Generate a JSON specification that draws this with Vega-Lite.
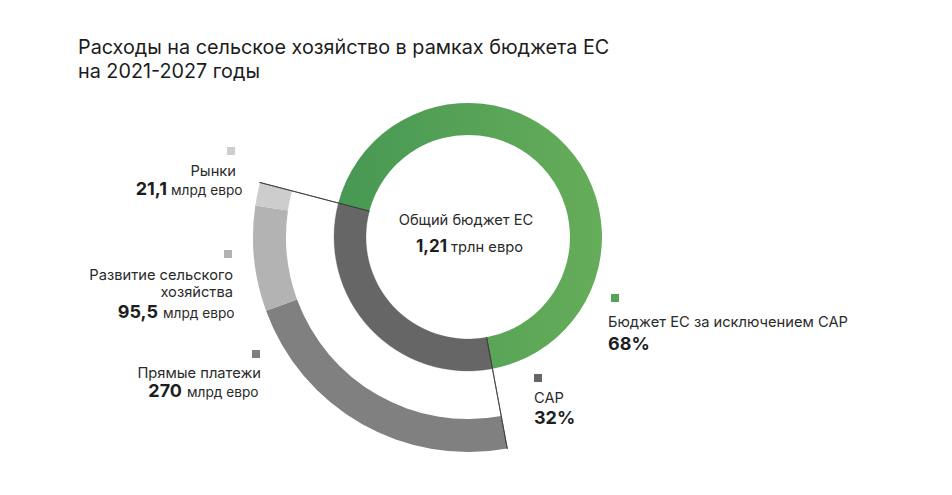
{
  "$schema": "https://vega.github.io/schema/vega-lite/v6.json",
  "width": 952,
  "height": 495,
  "autosize": {"type": "fit", "contains": "padding"},
  "padding": 0,
  "background": "#ffffff",
  "config": {
    "view": {"stroke": null},
    "text": {"font": "Inter", "fontSize": 14.7, "color": "#2b2b2b", "baseline": "alphabetic"}
  },
  "datasets": {
    "budget": [
      {"part": "CAP", "pct": 32, "label": "32%"},
      {"part": "Бюджет ЕС за исключением CAP", "pct": 68, "label": "68%"}
    ],
    "cap": [
      {"name": "Прямые платежи", "value": 270, "label": "270", "unit": "млрд евро"},
      {"name": "Развитие сельского хозяйства", "value": 95.5, "label": "95,5", "unit": "млрд евро"},
      {"name": "Рынки", "value": 21.1, "label": "21,1", "unit": "млрд евро"}
    ],
    "total": [
      {"name": "Общий бюджет ЕС", "value": 1.21, "label": "1,21", "unit": "трлн евро"}
    ],
    "heading": [
      {"title": "Расходы на сельское хозяйство в рамках бюджета ЕС|на 2021-2027 годы"}
    ]
  },
  "resolve": {"scale": {"theta": "independent", "color": "independent"}},
  "layer": [
    {
      "data": {"name": "budget"},
      "transform": [
        {"stack": "pct", "groupby": [], "sort": [{"field": "pct", "order": "ascending"}], "as": ["t0", "t1"]},
        {"filter": "datum.part === 'CAP'"}
      ],
      "mark": {"type": "arc", "radius": 134, "radius2": 102, "color": "#666666", "stroke": "#666666", "strokeWidth": 0.3},
      "encoding": {
        "x": {"datum": 468, "type": "quantitative", "scale": {"domain": [0, 952], "nice": false, "zero": false}, "axis": null},
        "y": {"datum": 237, "type": "quantitative", "scale": {"domain": [0, 495], "nice": false, "zero": false, "reverse": true}, "axis": null},
        "theta": {"field": "t0", "type": "quantitative", "scale": {"domain": [0, 100], "range": [2.958, 9.2412]}},
        "theta2": {"field": "t1"}
      }
    },
    {
      "data": {"name": "budget"},
      "transform": [
        {"stack": "pct", "groupby": [], "sort": [{"field": "pct", "order": "ascending"}], "as": ["t0", "t1"]},
        {"filter": "datum.part !== 'CAP'"}
      ],
      "mark": {
        "type": "arc", "radius": 134, "radius2": 102,
        "color": {"gradient": "linear", "x1": 0, "y1": 0, "x2": 1, "y2": 0, "stops": [{"offset": 0, "color": "#479853"}, {"offset": 1, "color": "#66ad5a"}]}
      },
      "encoding": {
        "x": {"datum": 468, "type": "quantitative", "scale": {"domain": [0, 952], "nice": false, "zero": false}, "axis": null},
        "y": {"datum": 237, "type": "quantitative", "scale": {"domain": [0, 495], "nice": false, "zero": false, "reverse": true}, "axis": null},
        "theta": {"field": "t0", "type": "quantitative", "scale": {"domain": [0, 100], "range": [2.958, 9.2412]}},
        "theta2": {"field": "t1"}
      }
    },
    {
      "data": {"name": "cap"},
      "transform": [
        {"stack": "value", "groupby": [], "sort": [{"field": "value", "order": "descending"}], "as": ["v0", "v1"]}
      ],
      "mark": {"type": "arc", "radius": 215, "radius2": 182},
      "encoding": {
        "x": {"datum": 468, "type": "quantitative", "scale": {"domain": [0, 952], "nice": false, "zero": false}, "axis": null},
        "y": {"datum": 237, "type": "quantitative", "scale": {"domain": [0, 495], "nice": false, "zero": false, "reverse": true}, "axis": null},
        "theta": {"field": "v0", "type": "quantitative", "scale": {"domain": [0, 386.6], "range": [2.958, 4.9686]}},
        "theta2": {"field": "v1"},
        "color": {"field": "name", "type": "nominal", "scale": {"domain": ["Прямые платежи", "Развитие сельского хозяйства", "Рынки"], "range": ["#808080", "#b3b3b3", "#cdcdcd"]}, "legend": null}
      }
    },
    {
      "data": {"name": "budget"},
      "transform": [
        {"stack": "pct", "groupby": [], "sort": [{"field": "pct", "order": "ascending"}], "as": ["t0", "t1"]}
      ],
      "mark": {"type": "arc", "radius": 215.5, "radius2": 102, "fillOpacity": 0, "stroke": "#3a3a3a", "strokeWidth": 0.8},
      "encoding": {
        "x": {"datum": 468, "type": "quantitative", "scale": {"domain": [0, 952], "nice": false, "zero": false}, "axis": null},
        "y": {"datum": 237, "type": "quantitative", "scale": {"domain": [0, 495], "nice": false, "zero": false, "reverse": true}, "axis": null},
        "theta": {"field": "t0", "type": "quantitative", "scale": {"domain": [0, 100], "range": [2.958, 9.2412]}},
        "theta2": {"field": "t0"}
      }
    },
    {
      "data": {"name": "heading"},
      "mark": {"type": "text", "align": "left", "fontSize": 19.8, "color": "#1c1c1c", "lineBreak": "|", "lineHeight": 24},
      "encoding": {
        "x": {"datum": 78, "type": "quantitative", "axis": null},
        "y": {"datum": 54, "type": "quantitative", "axis": null},
        "text": {"field": "title"}
      }
    },
    {
      "data": {"name": "total"},
      "mark": {"type": "text", "align": "center"},
      "encoding": {
        "x": {"datum": 466, "type": "quantitative", "axis": null},
        "y": {"datum": 225, "type": "quantitative", "axis": null},
        "text": {"field": "name"}
      }
    },
    {
      "data": {"name": "total"},
      "mark": {"type": "text", "align": "right", "fontSize": 17, "fontWeight": 700, "color": "#1e1e1e"},
      "encoding": {
        "x": {"datum": 447, "type": "quantitative", "axis": null},
        "y": {"datum": 252, "type": "quantitative", "axis": null},
        "text": {"field": "label"}
      }
    },
    {
      "data": {"name": "total"},
      "mark": {"type": "text", "align": "left"},
      "encoding": {
        "x": {"datum": 451, "type": "quantitative", "axis": null},
        "y": {"datum": 252, "type": "quantitative", "axis": null},
        "text": {"field": "unit"}
      }
    },
    {
      "data": {"name": "cap"},
      "transform": [{"filter": "datum.name === 'Рынки'"}],
      "mark": {"type": "point", "shape": "square", "size": 64, "filled": true, "opacity": 1, "color": "#cdcdcd"},
      "encoding": {
        "x": {"datum": 231, "type": "quantitative", "axis": null},
        "y": {"datum": 151, "type": "quantitative", "axis": null}
      }
    },
    {
      "data": {"name": "cap"},
      "transform": [{"filter": "datum.name === 'Рынки'"}],
      "mark": {"type": "text", "align": "right"},
      "encoding": {
        "x": {"datum": 236, "type": "quantitative", "axis": null},
        "y": {"datum": 176, "type": "quantitative", "axis": null},
        "text": {"field": "name"}
      }
    },
    {
      "data": {"name": "cap"},
      "transform": [{"filter": "datum.name === 'Рынки'"}],
      "mark": {"type": "text", "align": "right", "fontSize": 18, "fontWeight": 700, "color": "#1e1e1e"},
      "encoding": {
        "x": {"datum": 167, "type": "quantitative", "axis": null},
        "y": {"datum": 195, "type": "quantitative", "axis": null},
        "text": {"field": "label"}
      }
    },
    {
      "data": {"name": "cap"},
      "transform": [{"filter": "datum.name === 'Рынки'"}],
      "mark": {"type": "text", "align": "left", "fontSize": 13.7},
      "encoding": {
        "x": {"datum": 171, "type": "quantitative", "axis": null},
        "y": {"datum": 195, "type": "quantitative", "axis": null},
        "text": {"field": "unit"}
      }
    },
    {
      "data": {"name": "cap"},
      "transform": [{"filter": "datum.name === 'Развитие сельского хозяйства'"}],
      "mark": {"type": "point", "shape": "square", "size": 64, "filled": true, "opacity": 1, "color": "#b3b3b3"},
      "encoding": {
        "x": {"datum": 228, "type": "quantitative", "axis": null},
        "y": {"datum": 254, "type": "quantitative", "axis": null}
      }
    },
    {
      "data": {"name": "cap"},
      "transform": [{"filter": "datum.name === 'Развитие сельского хозяйства'"}],
      "mark": {"type": "text", "align": "right", "lineHeight": 17},
      "encoding": {
        "x": {"datum": 233, "type": "quantitative", "axis": null},
        "y": {"datum": 280, "type": "quantitative", "axis": null},
        "text": {"value": ["Развитие сельского", "хозяйства"]}
      }
    },
    {
      "data": {"name": "cap"},
      "transform": [{"filter": "datum.name === 'Развитие сельского хозяйства'"}],
      "mark": {"type": "text", "align": "right", "fontSize": 18, "fontWeight": 700, "color": "#1e1e1e"},
      "encoding": {
        "x": {"datum": 158, "type": "quantitative", "axis": null},
        "y": {"datum": 318, "type": "quantitative", "axis": null},
        "text": {"field": "label"}
      }
    },
    {
      "data": {"name": "cap"},
      "transform": [{"filter": "datum.name === 'Развитие сельского хозяйства'"}],
      "mark": {"type": "text", "align": "left", "fontSize": 13.7},
      "encoding": {
        "x": {"datum": 163, "type": "quantitative", "axis": null},
        "y": {"datum": 318, "type": "quantitative", "axis": null},
        "text": {"field": "unit"}
      }
    },
    {
      "data": {"name": "cap"},
      "transform": [{"filter": "datum.name === 'Прямые платежи'"}],
      "mark": {"type": "point", "shape": "square", "size": 64, "filled": true, "opacity": 1, "color": "#7f7f7f"},
      "encoding": {
        "x": {"datum": 256, "type": "quantitative", "axis": null},
        "y": {"datum": 354, "type": "quantitative", "axis": null}
      }
    },
    {
      "data": {"name": "cap"},
      "transform": [{"filter": "datum.name === 'Прямые платежи'"}],
      "mark": {"type": "text", "align": "right"},
      "encoding": {
        "x": {"datum": 261, "type": "quantitative", "axis": null},
        "y": {"datum": 378, "type": "quantitative", "axis": null},
        "text": {"field": "name"}
      }
    },
    {
      "data": {"name": "cap"},
      "transform": [{"filter": "datum.name === 'Прямые платежи'"}],
      "mark": {"type": "text", "align": "right", "fontSize": 18, "fontWeight": 700, "color": "#1e1e1e"},
      "encoding": {
        "x": {"datum": 182, "type": "quantitative", "axis": null},
        "y": {"datum": 397, "type": "quantitative", "axis": null},
        "text": {"field": "label"}
      }
    },
    {
      "data": {"name": "cap"},
      "transform": [{"filter": "datum.name === 'Прямые платежи'"}],
      "mark": {"type": "text", "align": "left", "fontSize": 13.7},
      "encoding": {
        "x": {"datum": 187, "type": "quantitative", "axis": null},
        "y": {"datum": 397, "type": "quantitative", "axis": null},
        "text": {"field": "unit"}
      }
    },
    {
      "data": {"name": "budget"},
      "transform": [{"filter": "datum.part !== 'CAP'"}],
      "mark": {"type": "point", "shape": "square", "size": 64, "filled": true, "opacity": 1, "color": "#55a359"},
      "encoding": {
        "x": {"datum": 615, "type": "quantitative", "axis": null},
        "y": {"datum": 298, "type": "quantitative", "axis": null}
      }
    },
    {
      "data": {"name": "budget"},
      "transform": [{"filter": "datum.part !== 'CAP'"}],
      "mark": {"type": "text", "align": "left"},
      "encoding": {
        "x": {"datum": 608, "type": "quantitative", "axis": null},
        "y": {"datum": 327, "type": "quantitative", "axis": null},
        "text": {"field": "part"}
      }
    },
    {
      "data": {"name": "budget"},
      "transform": [{"filter": "datum.part !== 'CAP'"}],
      "mark": {"type": "text", "align": "left", "fontSize": 18, "fontWeight": 700, "color": "#1e1e1e"},
      "encoding": {
        "x": {"datum": 608, "type": "quantitative", "axis": null},
        "y": {"datum": 350, "type": "quantitative", "axis": null},
        "text": {"field": "label"}
      }
    },
    {
      "data": {"name": "budget"},
      "transform": [{"filter": "datum.part === 'CAP'"}],
      "mark": {"type": "point", "shape": "square", "size": 64, "filled": true, "opacity": 1, "color": "#666666"},
      "encoding": {
        "x": {"datum": 538, "type": "quantitative", "axis": null},
        "y": {"datum": 378, "type": "quantitative", "axis": null}
      }
    },
    {
      "data": {"name": "budget"},
      "transform": [{"filter": "datum.part === 'CAP'"}],
      "mark": {"type": "text", "align": "left"},
      "encoding": {
        "x": {"datum": 534, "type": "quantitative", "axis": null},
        "y": {"datum": 403, "type": "quantitative", "axis": null},
        "text": {"field": "part"}
      }
    },
    {
      "data": {"name": "budget"},
      "transform": [{"filter": "datum.part === 'CAP'"}],
      "mark": {"type": "text", "align": "left", "fontSize": 18, "fontWeight": 700, "color": "#1e1e1e"},
      "encoding": {
        "x": {"datum": 534, "type": "quantitative", "axis": null},
        "y": {"datum": 424, "type": "quantitative", "axis": null},
        "text": {"field": "label"}
      }
    }
  ]
}
